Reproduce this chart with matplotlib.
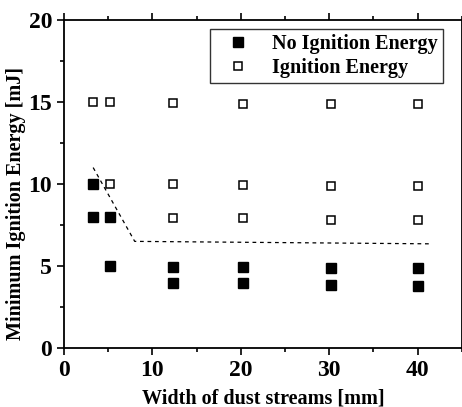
import matplotlib
matplotlib.use("Agg")
import matplotlib.pyplot as plt
from matplotlib.ticker import MultipleLocator

plt.rcParams['font.family'] = ['Liberation Serif', 'DejaVu Serif']
plt.rcParams['font.weight'] = 'bold'

# no ignition (filled squares)
no_ign_x = [3.3, 3.3, 5.2, 5.2, 12.3, 12.3, 20.3, 20.3, 30.2, 30.2, 40.0, 40.0]
no_ign_y = [10.0, 8.0, 8.0, 5.0, 4.95, 3.95, 4.95, 3.95, 4.9, 3.85, 4.85, 3.8]

# ignition (open squares)
ign_x = [3.3, 5.2, 12.3, 20.3, 30.2, 40.0,
         5.2, 12.3, 20.3, 30.2, 40.0,
         12.3, 20.3, 30.2, 40.0]
ign_y = [15.0, 15.0, 14.95, 14.9, 14.85, 14.85,
         10.0, 10.0, 9.95, 9.9, 9.85,
         7.95, 7.9, 7.8, 7.8]

# dashed boundary
line_x = [3.3, 8.0, 41.5]
line_y = [11.0, 6.5, 6.35]

fig = plt.figure(figsize=(4.62, 4.07), dpi=100)
ax = fig.add_axes([0.1385, 0.145, 0.861, 0.806])

ax.plot(line_x, line_y, linestyle=(0, (3, 3)), color='black', linewidth=0.9)
ax.plot(no_ign_x, no_ign_y, 's', color='black', markersize=6.5, linestyle='none',
        label='No Ignition Energy')
ax.plot(ign_x, ign_y, 's', markerfacecolor='white', markeredgecolor='black',
        markeredgewidth=1.1, markersize=6, linestyle='none', label='Ignition Energy')

ax.set_xlim(0, 45)
ax.set_ylim(0, 20)
ax.xaxis.set_major_locator(MultipleLocator(10))
ax.xaxis.set_minor_locator(MultipleLocator(5))
ax.yaxis.set_major_locator(MultipleLocator(5))
ax.yaxis.set_minor_locator(MultipleLocator(2.5))
ax.tick_params(which='both', direction='out', top=True, right=True,
               labelsize=17, width=1.2)
ax.tick_params(which='major', length=5)
ax.tick_params(which='minor', length=3)
for s in ax.spines.values():
    s.set_linewidth(1.3)

ax.set_xlabel('Width of dust streams [mm]', fontsize=14.5, fontweight='bold')
ax.set_ylabel('Minimum Ignition Energy [mJ]', fontsize=14.5, fontweight='bold')
ax.xaxis.set_label_coords(0.5, -0.122)
ax.yaxis.set_label_coords(-0.095, 0.44)

leg = ax.legend(loc='upper right', bbox_to_anchor=(0.952, 0.973), borderaxespad=0,
                fontsize=14.5, frameon=True, fancybox=False, edgecolor='black',
                handletextpad=0.6, borderpad=0.25, labelspacing=0.2, handlelength=2.2)
leg.get_frame().set_linewidth(1.0)
for t in leg.get_texts():
    t.set_fontweight('bold')

fig.savefig('out.png', dpi=100)
